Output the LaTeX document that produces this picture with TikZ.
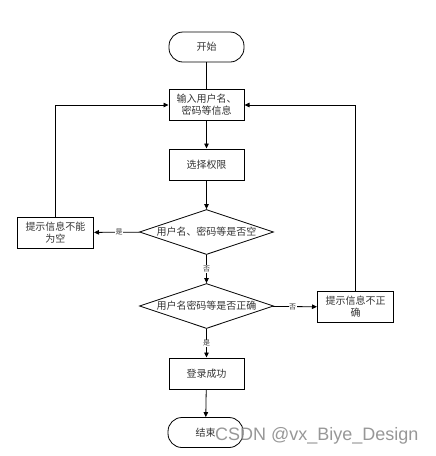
\documentclass[tikz,border=0pt]{standalone}
\usepackage{fontspec}
\newfontfamily\cjk{Noto Sans CJK SC}
\setsansfont{Liberation Sans}
\usetikzlibrary{shapes.geometric,arrows.meta}
\begin{document}
\begin{tikzpicture}[x=1pt,y=-1pt,
  every node/.style={font=\cjk\fontsize{10}{12}\selectfont, text=black!80},
  term/.style={draw, rounded corners=14pt, minimum width=75pt, minimum height=30pt, line width=0.8pt, inner sep=0pt},
  proc/.style={draw, minimum width=75pt, minimum height=31pt, line width=1pt, inner sep=1pt, align=center, text width=72pt},
  dec/.style={draw, diamond, aspect=3.1, minimum width=134pt, minimum height=45pt, inner sep=0pt, line width=0.8pt},
  conn/.style={line width=0.8pt, -{Triangle[length=5pt,width=4.5pt]}},
  lbl/.style={fill=white, inner sep=0.5pt, font=\cjk\fontsize{7}{8}\selectfont}]
\useasboundingbox (0,0) rectangle (436,456);
\node[term] (start) at (206.5,47) {开始};
\node[proc] (input) at (206.5,105) {输入用户名、\\密码等信息};
\node[proc] (perm) at (206.5,164.5) {选择权限};
\node[dec] (d1) at (206.5,232) {用户名、密码等是否空};
\node[proc, minimum width=76pt] (empty) at (55.5,232.5) {提示信息不能\\为空};
\node[dec] (d2) at (206.5,306) {用户名密码等是否正确};
\node[proc, minimum width=76pt] (wrong) at (355.5,307) {提示信息不正\\确};
\node[proc] (ok) at (206.5,373.5) {登录成功};
\node[term] (end) at (205.5,432.5) {结束};
\draw[line width=0.8pt] (start) -- (input);
\draw[conn] (input) -- (perm);
\draw[conn] (perm) -- (d1);
\draw[conn] (d1) -- node[lbl, pos=0.45] {是} (empty);
\draw[conn] (empty.north) |- (input.west);
\draw[conn] (d1) -- node[lbl, pos=0.5] {否} (d2);
\draw[conn] (d2) -- node[lbl, pos=0.45] {否} (wrong);
\draw[conn] (wrong.north) |- (input.east);
\draw[conn] (d2) -- node[lbl, pos=0.5] {是} (ok);
\draw[conn] (ok) -- (end);
\node[font=\sffamily\fontsize{18}{20}\selectfont, text=black!45, opacity=0.9, anchor=west, inner sep=0pt] (wm) at (215,436) {CSDN @vx\_Biye\_Design};
\end{tikzpicture}
\end{document}
